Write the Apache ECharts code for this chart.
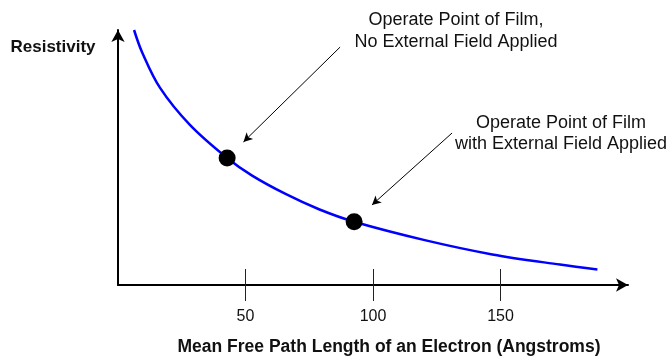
<!DOCTYPE html>
<html>
<head>
<meta charset="utf-8">
<script src="https://cdn.jsdelivr.net/npm/echarts@6/dist/echarts.min.js"></script>
<style>
  html, body { margin: 0; padding: 0; background: #fff; }
  #chart { width: 668px; height: 360px; }
</style>
</head>
<body>
<div id="chart"></div>
<script>
// Resistivity falls as the mean free path of the electron grows
const pathLength  = [6.3, 9.4, 16.5, 28.2, 42.8, 52.6, 65.9, 78.8, 92.6, 120.7, 146.8, 173.3, 188.0];
const resistivity = [100, 91.4, 77.3, 62.8, 49.8, 42.9, 35.6, 29.7, 24.8, 17.5, 12.0, 8.0, 6.1];

// Operating points of the film
const opPathLength  = [42.8, 92.6];
const opResistivity = [49.8, 24.8];

// Tick labels on the path-length axis
const tickValues = [50, 100, 150];

// Callout arrows: [start, end] in data units
const calloutNoField   = [[87.1, 93.3], [49.2, 56.1]];
const calloutWithField = [[131.0, 59.6], [99.6, 31.4]];

const curve = pathLength.map((x, i) => [x, resistivity[i]]);
const points = opPathLength.map((x, i) => [x, opResistivity[i]]);

const FONT = 'Liberation Sans, Arial, sans-serif';

const chart = echarts.init(document.getElementById('chart'), null, { renderer: 'canvas' });

const sharedAxis = {
  type: 'value', min: 0, max: 200, interval: 50
};

chart.setOption({
  animation: false,
  backgroundColor: '#fff',
  grid: { left: 118, top: 30, width: 510, height: 255, containLabel: false },
  xAxis: [
    Object.assign({}, sharedAxis, {
      position: 'bottom',
      axisLine: { show: true, onZero: false, symbol: ['none', 'arrow'], symbolSize: [10, 12],
                  lineStyle: { color: '#000', width: 2 } },
      axisTick: { show: true, length: 16, customValues: tickValues, lineStyle: { color: '#222', width: 1 } },
      axisLabel: { show: true, customValues: tickValues, margin: 24,
                   color: '#111', fontFamily: FONT, fontSize: 16 },
      splitLine: { show: false }
    }),
    Object.assign({}, sharedAxis, {
      position: 'bottom',
      axisLine: { show: false, onZero: false },
      axisTick: { show: true, inside: true, length: 16, customValues: tickValues, lineStyle: { color: '#222', width: 1 } },
      axisLabel: { show: false },
      splitLine: { show: false }
    })
  ],
  yAxis: {
    type: 'value', min: 0, max: 100,
    axisLine: { show: true, onZero: false, symbol: ['none', 'arrow'], symbolSize: [10, 12],
                lineStyle: { color: '#000', width: 2 } },
    axisTick: { show: false },
    axisLabel: { show: false },
    splitLine: { show: false }
  },
  series: [
    {
      type: 'line',
      data: curve,
      smooth: 0.35,
      showSymbol: false,
      clip: false,
      lineStyle: { color: '#0000ff', width: 2.5 },
      markLine: {
        silent: true,
        symbol: ['none', 'arrow'],
        symbolSize: [7, 9],
        label: { show: false },
        lineStyle: { color: '#000', width: 1, type: 'solid' },
        data: [
          [{ coord: calloutNoField[0] }, { coord: calloutNoField[1] }],
          [{ coord: calloutWithField[0] }, { coord: calloutWithField[1] }]
        ]
      }
    },
    {
      type: 'scatter',
      data: points,
      symbol: 'circle',
      symbolSize: 17,
      itemStyle: { color: '#000', opacity: 1 },
      z: 5
    }
  ],
  graphic: [
    { type: 'text', x: 53, y: 47, style: { text: 'Resistivity', font: 'bold 17px ' + FONT,
      fill: '#111', align: 'center', verticalAlign: 'middle' } },
    { type: 'text', x: 389, y: 347, style: { text: 'Mean Free Path Length of an Electron (Angstroms)',
      font: 'bold 17.5px ' + FONT, fill: '#111', align: 'center', verticalAlign: 'middle' } },
    { type: 'text', x: 456, y: 31, style: { text: 'Operate Point of Film,\nNo External Field Applied',
      font: '18px ' + FONT, fill: '#111', align: 'center', verticalAlign: 'middle', lineHeight: 22 } },
    { type: 'text', x: 561, y: 133.5, style: { text: 'Operate Point of Film\nwith External Field Applied',
      font: '18px ' + FONT, fill: '#111', align: 'center', verticalAlign: 'middle', lineHeight: 21 } }
  ]
});
</script>
</body>
</html>
